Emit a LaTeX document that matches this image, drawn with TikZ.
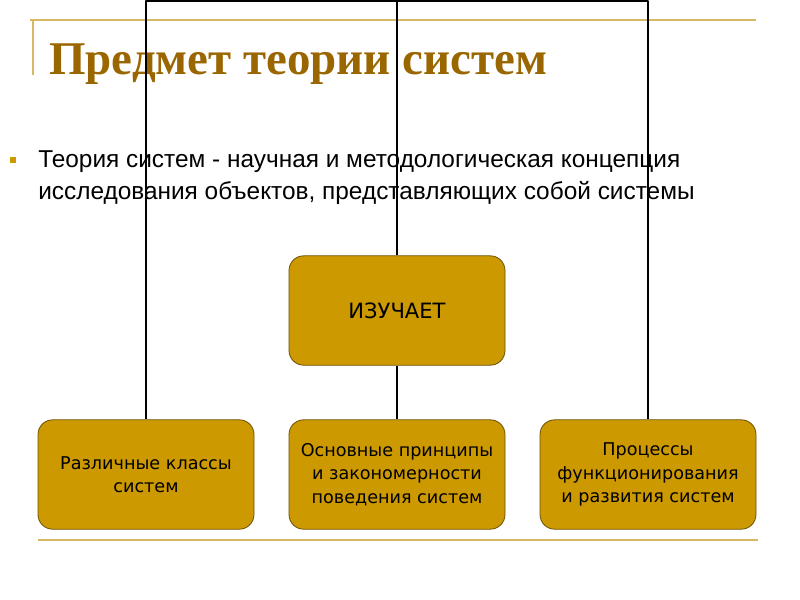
\documentclass[tikz,border=0pt]{standalone}
\usepackage{fontspec}
\setmainfont{Liberation Sans}
\newfontfamily\titlefont{Liberation Serif}
\newfontfamily\boxfont{DejaVu Sans}
\definecolor{gold}{HTML}{CC9900}
\definecolor{paleline}{HTML}{D9B864}
\definecolor{titlebrown}{HTML}{996600}
\definecolor{boxedge}{HTML}{6B5000}
\tikzset{
  topicbox/.style={draw=boxedge, line width=0.6pt, fill=gold, rounded corners=11pt,
    minimum width=162pt, minimum height=82pt, align=center, inner sep=2pt,
    font=\boxfont\fontsize{13.2}{17.5}\selectfont},
  link/.style={line width=0.9pt, black}
}
\begin{document}
\begin{tikzpicture}[x=0.75pt, y=-0.75pt, line join=round]
            \useasboundingbox (0,0) rectangle (800,600);
            \draw[paleline, line width=1.5pt] (30,20)--(756,20);
            \draw[paleline, line width=1pt] (33,20)--(33,75);
            \draw[paleline, line width=1.5pt] (38,540)--(758,540);
            \node[anchor=base west, inner sep=0, text=titlebrown,
                  font=\titlefont\bfseries\fontsize{35.2}{40}\selectfont] (title) at (49,74) {Предмет теории систем};
            \node[fill=gold, minimum size=4.5pt, inner sep=0] (bullet) at (13,160) {};
            % base anchor sits on the last line
            \node[anchor=base west, inner sep=0, align=left,
                  font=\fontsize{18.3}{24}\selectfont] (intro) at (38,199)
                  {Теория систем - научная и методологическая концепция\\исследования объектов, представляющих собой системы};
            \coordinate (top) at (397,1);
            \node[topicbox, font=\boxfont\fontsize{15.8}{18}\selectfont] (studies) at (397,310.5) {ИЗУЧАЕТ};
            \node[topicbox] (classes) at (146,474.5) {Различные классы\\систем};
            \node[topicbox] (laws) at (397,474.5) {Основные принципы\\и закономерности\\поведения систем};
            \node[topicbox] (processes) at (648,474.5) {Процессы\\функционирования\\и развития систем};
            \draw[link] (studies.north) -- (top);
            \draw[link] (classes.north) |- (top) -| (processes.north);
            \draw[link] (studies.south) -- (laws.north);
        \end{tikzpicture}
\end{document}
